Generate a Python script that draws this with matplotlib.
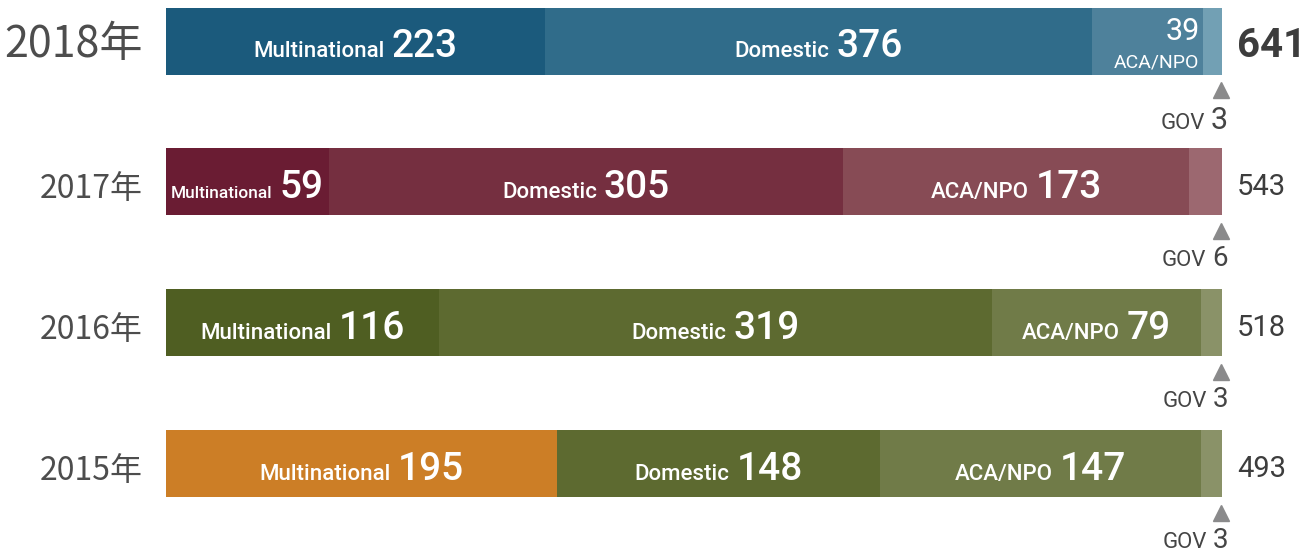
import numpy as np
import matplotlib
matplotlib.use("Agg")
import matplotlib.pyplot as plt

# data
years = ["2018年", "2017年", "2016年", "2015年"]
categories = ["Multinational", "Domestic", "ACA/NPO", "GOV"]
multinational = [223, 59, 116, 195]
domestic = [376, 305, 319, 148]
aca_npo = [39, 173, 79, 147]
gov = [3, 6, 3, 3]
totals = [641, 543, 518, 493]

row_colors = [
    ["#1b5a7c", "#306c8a", "#4e819b", "#72a0b4"],
    ["#6a1c33", "#752f40", "#874b55", "#9c6870"],
    ["#4f5e22", "#5d6a30", "#707b48", "#8a9268"],
    ["#cc7e26", "#5d6a30", "#707b48", "#8a9268"],
]

LABEL_FONT = "Roboto"
CJK_FONT = ["Noto Sans CJK JP", "DejaVu Sans"]


def main():
    values = np.array([multinational, domestic, aca_npo, gov], dtype=float).T
    # every bar has the same length; small parts are compressed a bit
    weights = values ** 0.7
    shares = weights / weights.sum(axis=1, keepdims=True)
    lefts = np.cumsum(shares, axis=1) - shares

    fig = plt.figure(figsize=(13.12, 5.52), dpi=100)
    ax = fig.add_axes([166 / 1312, 0, 1056 / 1312, 1])
    ax.set_xlim(0, 1)
    row_step = 141
    ax.set_ylim((552 - 41) / row_step, -41 / row_step)
    ax.axis("off")

    rows = np.arange(len(years))
    for j in range(len(categories)):
        ax.barh(rows, shares[:, j], left=lefts[:, j], height=67 / row_step,
                color=[row_colors[i][j] for i in rows], edgecolor="none")

    renderer = fig.canvas.get_renderer()
    px = ax.get_window_extent().width  # pixels per x unit
    dy = 1 / row_step  # data units per pixel, vertically

    def width_px(t):
        return t.get_window_extent(renderer).width

    for i in rows:
        latest = i == 0
        for j in range(3):
            seg_w = shares[i, j] * px
            x_end = lefts[i, j] + shares[i, j]
            val = str(int(values[i, j]))
            if seg_w < 130:
                # narrow part: number above, name below, right aligned
                ax.text(x_end - 4 / px, i - 1 * dy, val, fontsize=22,
                        family=LABEL_FONT, color="white", ha="right",
                        va="baseline")
                ax.text(x_end - 4 / px, i + 27 * dy, categories[j],
                        fontsize=14, family=LABEL_FONT, color="white",
                        ha="right", va="baseline")
                continue
            word = ax.text(0, i + 16 * dy, categories[j], fontsize=16,
                           family=LABEL_FONT, weight="medium", color="white",
                           ha="left", va="baseline")
            num = ax.text(0, i + 16 * dy, val, fontsize=28,
                          family=LABEL_FONT, weight="medium", color="white",
                          ha="left", va="baseline")
            gap = 7
            total = width_px(word) + gap + width_px(num)
            room = seg_w - 10
            if total > room:
                scale = (room - gap - width_px(num)) / width_px(word)
                word.set_fontsize(16 * scale)
                total = width_px(word) + gap + width_px(num)
            x0 = lefts[i, j] + shares[i, j] / 2 - total / 2 / px
            word.set_x(x0)
            num.set_x(x0 + (width_px(word) + gap) / px)

        # GOV pointer below the bar
        x_gov = lefts[i, 3] + shares[i, 3]
        ax.plot([x_gov - 1 / px], [i + 49 * dy], marker="^", markersize=11,
                color="#8a8a8b", clip_on=False)
        gov_y = i + (88 if latest else 84) * dy
        g_num = ax.text(1 + 6 / px, gov_y, str(gov[i]),
                        fontsize=22 if latest else 20, family=LABEL_FONT,
                        color="#454545", ha="right", va="baseline")
        ax.text(1 + 6 / px - (width_px(g_num) + 6) / px, gov_y, "GOV",
                fontsize=16, family=LABEL_FONT,
                color="#454545", ha="right", va="baseline")

        # year on the left, total on the right
        ax.text(-23 / px, i + 16 * dy, years[i],
                fontsize=31 if latest else 23, family=CJK_FONT,
                color="#4d4d4d", ha="right", va="baseline")
        ax.text(1 + 15 / px, i + (16 if latest else 13) * dy, str(totals[i]),
                fontsize=29 if latest else 21, family=LABEL_FONT,
                weight="bold" if latest else "normal", color="#3d3d3d",
                ha="left", va="baseline")

    fig.savefig("out.png", dpi=100)


main()
